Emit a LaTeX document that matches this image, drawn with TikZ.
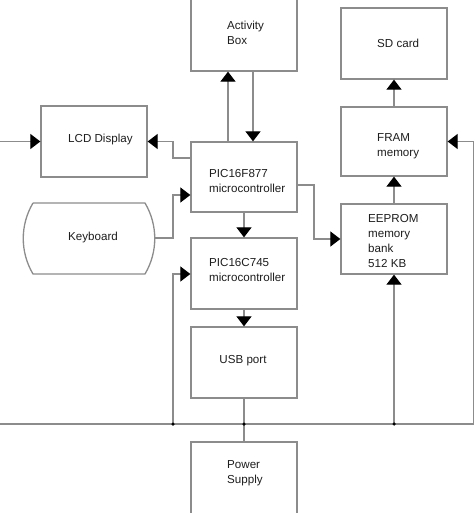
\documentclass[tikz,border=0pt]{standalone}
\usepackage{fontspec}
\setmainfont{Liberation Sans}
\usetikzlibrary{arrows.meta}
\definecolor{lin}{HTML}{8C8C8C}
\definecolor{txtc}{HTML}{1E1E1E}
\begin{document}
\begin{tikzpicture}[x=1pt,y=-1pt,
  box/.style={draw=lin,line width=1.3pt,rectangle,inner sep=0pt,minimum width=106pt},
  lbl/.style={text=txtc,font=\fontsize{11.6}{15}\selectfont,inner sep=0pt,anchor=west,align=left},
  wire/.style={draw=lin,line width=1.2pt},
  arr/.style={wire,-{Triangle[width=15pt,length=10pt,fill=black,color=black]}},
  dot/.style={circle,fill=black,inner sep=0pt,minimum size=3.5pt}]
\useasboundingbox (0,0) rectangle (474,513);
\fill[white] (0,0) rectangle (474,513);
% boxes
\node[box,minimum height=75pt] (act) at (244,33.5) {};
\node[box,minimum height=70pt] (pic1) at (244,177) {};
\node[box,minimum height=71pt] (lcd) at (94,141.5) {};
\node[box,minimum height=71pt] (pic2) at (244,273.5) {};
\node[box,minimum height=71pt] (usb) at (244,362.5) {};
\node[box,minimum height=80pt] (pwr) at (244,482) {};
\node[box,minimum height=71pt] (sd) at (394,43.5) {};
\node[box,minimum height=69pt] (fram) at (394,141.5) {};
\node[box,minimum height=70pt] (eep) at (394,239) {};
% keyboard
\draw[wire,line width=1.3pt] (33,203) -- (145,203) .. controls (158,225) and (158,252) .. (145,274)
  -- (33,274) .. controls (20,252) and (20,225) .. (33,203);
\coordinate (kbd) at (155,238);
% labels
\node[lbl] (tact) at (227,32.5) {Activity\\Box};
\node[lbl] (tpic1) at (209,181.5) {PIC16F877\\microcontroller};
\node[lbl] (tlcd) at (68,140) {LCD Display};
\node[lbl] (tkbd) at (68,237.5) {Keyboard};
\node[lbl] (tpic2) at (209,270) {PIC16C745\\microcontroller};
\node[lbl,anchor=center] (tusb) at (243,361) {USB port};
\node[lbl] (tpwr) at (227,473.5) {Power\\Supply};
\node[lbl] (tsd) at (377,43) {SD card};
\node[lbl] (tfram) at (377,146.5) {FRAM\\memory};
\node[lbl] (teep) at (368,241.5) {EEPROM\\memory\\bank\\512 KB};
% coordinates
\coordinate (busL) at (0,424);
\coordinate (busR) at (474,424);
\coordinate (b1) at (173,424);
\coordinate (b2) at (244,424);
\coordinate (b3) at (394,424);
\coordinate (lin) at (0,141.5);
\coordinate (rin) at (473.5,424);
\coordinate (upx) at (228,0);
\coordinate (dnx) at (253,0);
% connectors
\draw[wire] (busL) -- (busR);
\draw[arr] (lin) -- (lcd.west);
\draw[arr] (pic1.north -| upx) -- (act.south -| upx);
\draw[arr] (act.south -| dnx) -- (pic1.north -| dnx);
\draw[arr] (pic1.west |- 0,158) -- (173,158) -- (173,141.5) -- (lcd.east);
\draw[arr] (kbd) -- (173,238) -- (173,195) -- (pic1.west |- 0,195);
\draw[arr] (pic1.south) -- (pic2.north);
\draw[arr] (b1) -- (173,274) -- (pic2.west |- 0,274);
\draw[arr] (pic2.south) -- (usb.north);
\draw[wire] (usb.south) -- (b2) -- (pwr.north);
\draw[arr] (pic1.east |- 0,185) -- (314,185) -- (314,239) -- (eep.west);
\draw[arr] (b3) -- (eep.south);
\draw[arr] (eep.north) -- (fram.south);
\draw[arr] (fram.north) -- (sd.south);
\draw[arr] (rin) -- (473.5,141.5) -- (fram.east);
\node[dot] (d1) at (b1) {};
\node[dot] (d2) at (b2) {};
\node[dot] (d3) at (b3) {};
\end{tikzpicture}
\end{document}
